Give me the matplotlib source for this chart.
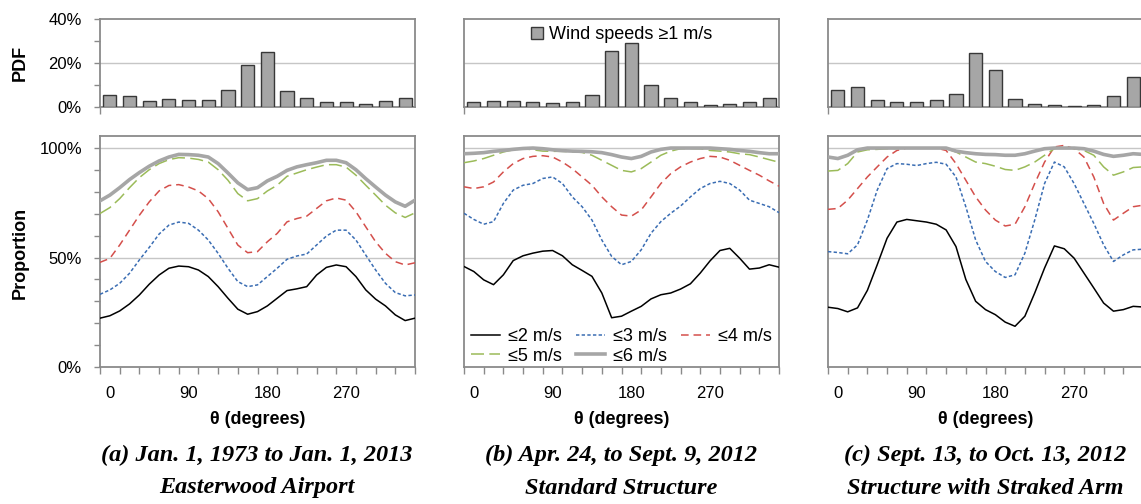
import numpy as np
import matplotlib.pyplot as plt
from matplotlib.patches import Patch

plt.rcParams['font.family'] = ['Liberation Sans', 'DejaVu Sans']

# wind direction bins (deg) for the PDF bars, values in %
bin_centers = [0, 22.5, 45, 67.5, 90, 112.5, 135, 157.5, 180, 202.5, 225, 247.5, 270, 292.5, 315, 337.5]
pdf_a = [5.3, 5.0, 2.7, 3.6, 3.3, 3.3, 7.8, 19.0, 25.2, 7.2, 3.9, 2.3, 2.1, 1.5, 2.7, 4.1]
pdf_b = [2.1, 2.7, 2.7, 2.3, 2.0, 2.3, 5.6, 25.4, 29.3, 9.9, 4.1, 2.1, 0.9, 1.2, 2.4, 3.9]
pdf_c = [7.7, 8.9, 3.2, 2.3, 2.3, 3.0, 5.9, 24.4, 16.7, 3.8, 1.2, 0.8, 0.3, 0.9, 4.8, 13.5]

# direction axis for the proportion curves
theta = [-11.25, 0, 11.25, 22.5, 33.75, 45, 56.25, 67.5, 78.75, 90, 101.25, 112.5, 123.75,
         135, 146.25, 157.5, 168.75, 180, 191.25, 202.5, 213.75, 225, 236.25, 247.5, 258.75,
         270, 281.25, 292.5, 303.75, 315, 326.25, 337.5, 348.75]

# (a) Easterwood Airport
a_le2 = [0.223, 0.234, 0.256, 0.288, 0.329, 0.378, 0.420, 0.451, 0.461, 0.458, 0.443, 0.413, 0.367,
         0.314, 0.264, 0.241, 0.253, 0.279, 0.314, 0.349, 0.357, 0.367, 0.420, 0.455, 0.466, 0.458,
         0.413, 0.352, 0.310, 0.279, 0.238, 0.212, 0.223]
a_le3 = [0.332, 0.352, 0.382, 0.428, 0.489, 0.546, 0.607, 0.648, 0.662, 0.656, 0.625, 0.580, 0.519,
         0.451, 0.390, 0.367, 0.375, 0.413, 0.451, 0.492, 0.507, 0.516, 0.557, 0.598, 0.625, 0.625,
         0.580, 0.511, 0.443, 0.382, 0.340, 0.325, 0.329]
a_le4 = [0.478, 0.496, 0.557, 0.625, 0.693, 0.754, 0.804, 0.829, 0.833, 0.822, 0.804, 0.769, 0.709,
         0.633, 0.557, 0.522, 0.527, 0.572, 0.610, 0.663, 0.678, 0.689, 0.724, 0.759, 0.772, 0.762,
         0.709, 0.640, 0.572, 0.519, 0.481, 0.466, 0.476]
a_le5 = [0.701, 0.728, 0.769, 0.819, 0.865, 0.901, 0.929, 0.947, 0.956, 0.954, 0.948, 0.936, 0.901,
         0.853, 0.792, 0.759, 0.769, 0.804, 0.830, 0.871, 0.886, 0.901, 0.913, 0.924, 0.924, 0.913,
         0.876, 0.830, 0.785, 0.739, 0.704, 0.683, 0.704]
a_le6 = [0.759, 0.785, 0.819, 0.856, 0.888, 0.917, 0.941, 0.959, 0.971, 0.970, 0.967, 0.959, 0.929,
         0.886, 0.841, 0.810, 0.819, 0.850, 0.871, 0.898, 0.914, 0.924, 0.933, 0.944, 0.944, 0.933,
         0.901, 0.860, 0.822, 0.785, 0.754, 0.734, 0.762]

# (b) standard structure
b_le2 = [0.459, 0.436, 0.398, 0.376, 0.421, 0.486, 0.508, 0.520, 0.529, 0.532, 0.508, 0.467, 0.441,
         0.414, 0.338, 0.225, 0.232, 0.255, 0.277, 0.311, 0.330, 0.338, 0.356, 0.380, 0.429, 0.485,
         0.532, 0.542, 0.497, 0.447, 0.452, 0.467, 0.456]
b_le3 = [0.702, 0.674, 0.652, 0.664, 0.747, 0.808, 0.830, 0.838, 0.861, 0.868, 0.838, 0.777, 0.732,
         0.671, 0.580, 0.505, 0.467, 0.482, 0.535, 0.611, 0.664, 0.702, 0.735, 0.777, 0.815, 0.838,
         0.848, 0.838, 0.808, 0.762, 0.747, 0.732, 0.705]
b_le4 = [0.823, 0.815, 0.823, 0.845, 0.891, 0.929, 0.952, 0.962, 0.965, 0.959, 0.936, 0.906, 0.868,
         0.830, 0.777, 0.732, 0.694, 0.689, 0.717, 0.777, 0.838, 0.883, 0.914, 0.936, 0.952, 0.962,
         0.959, 0.944, 0.921, 0.898, 0.876, 0.850, 0.826]
b_le5 = [0.933, 0.941, 0.952, 0.967, 0.982, 0.992, 0.997, 0.992, 0.986, 0.985, 0.985, 0.983, 0.980,
         0.967, 0.944, 0.921, 0.898, 0.891, 0.906, 0.936, 0.967, 0.986, 0.997, 0.998, 0.997, 0.989,
         0.986, 0.982, 0.974, 0.970, 0.959, 0.947, 0.935]
b_le6 = [0.974, 0.976, 0.979, 0.985, 0.989, 0.994, 0.998, 1.0, 0.997, 0.992, 0.988, 0.986, 0.985,
         0.983, 0.979, 0.970, 0.959, 0.952, 0.962, 0.982, 0.994, 1.0, 1.0, 1.0, 1.0, 1.0,
         0.997, 0.994, 0.989, 0.985, 0.979, 0.974, 0.974]

# (c) structure with straked arm
c_le2 = [0.273, 0.267, 0.252, 0.270, 0.350, 0.467, 0.588, 0.662, 0.674, 0.668, 0.662, 0.652, 0.626,
         0.550, 0.400, 0.300, 0.262, 0.239, 0.205, 0.186, 0.232, 0.338, 0.452, 0.553, 0.540, 0.497,
         0.429, 0.361, 0.292, 0.255, 0.262, 0.277, 0.274]
c_le3 = [0.527, 0.523, 0.517, 0.558, 0.671, 0.808, 0.906, 0.929, 0.926, 0.920, 0.929, 0.935, 0.926,
         0.868, 0.732, 0.580, 0.482, 0.436, 0.409, 0.421, 0.520, 0.671, 0.838, 0.936, 0.914, 0.838,
         0.747, 0.656, 0.558, 0.482, 0.512, 0.535, 0.538]
c_le4 = [0.720, 0.724, 0.762, 0.815, 0.868, 0.914, 0.959, 0.989, 1.0, 1.0, 1.0, 1.0, 0.989,
         0.929, 0.853, 0.777, 0.717, 0.671, 0.644, 0.652, 0.732, 0.838, 0.936, 1.005, 1.012, 0.997,
         0.959, 0.868, 0.747, 0.671, 0.702, 0.732, 0.739]
c_le5 = [0.895, 0.898, 0.929, 0.982, 0.992, 0.994, 0.997, 0.998, 1.0, 1.0, 1.0, 1.0, 0.997,
         0.982, 0.959, 0.936, 0.929, 0.917, 0.902, 0.898, 0.914, 0.936, 0.967, 0.997, 1.005, 0.997,
         0.989, 0.967, 0.914, 0.876, 0.891, 0.911, 0.914]
c_le6 = [0.959, 0.952, 0.967, 0.992, 1.0, 1.0, 1.0, 1.0, 1.0, 1.0, 1.0, 1.0, 1.0,
         0.986, 0.979, 0.974, 0.971, 0.970, 0.967, 0.967, 0.974, 0.986, 0.997, 1.0, 1.0, 1.0,
         0.997, 0.986, 0.971, 0.962, 0.967, 0.974, 0.971]

series_labels = ['≤2 m/s', '≤3 m/s', '≤4 m/s', '≤5 m/s', '≤6 m/s']
captions = [('(a) Jan. 1, 1973 to Jan. 1, 2013', 'Easterwood Airport'),
            ('(b) Apr. 24, to Sept. 9, 2012', 'Standard Structure'),
            ('(c) Sept. 13, to Oct. 13, 2012', 'Structure with Straked Arm')]

line_styles = [
    dict(color='black', lw=1.1, ls='-'),
    dict(color='#3a6db3', lw=1.1, ls=(0, (2.2, 1.5))),
    dict(color='#d44f4b', lw=1.1, ls=(0, (5, 3.2))),
    dict(color='#9bbb59', lw=1.1, ls=(0, (8.5, 3.5))),
    dict(color='#a6a6a6', lw=2.6, ls='-'),
]

frame = '#8a8a8a'
grid = '#c6c6c6'
W, H = 1141, 504
fig = plt.figure(figsize=(W / 100, H / 100), dpi=100)

lefts = [100, 464, 828]
xlim = (-11.25, 348.75)
bounds = np.arange(-11.25, 349, 22.5)

panels = [(pdf_a, [a_le2, a_le3, a_le4, a_le5, a_le6]),
          (pdf_b, [b_le2, b_le3, b_le4, b_le5, b_le6]),
          (pdf_c, [c_le2, c_le3, c_le4, c_le5, c_le6])]

for i, (pdf, curves) in enumerate(panels):
    left = lefts[i] / W
    width = 315 / W

    # PDF bars
    ax = fig.add_axes([left, (H - 107) / H, width, 88 / H])
    ax.bar(bin_centers, pdf, width=15, color='#a6a6a6', edgecolor='#383838', lw=1.0, zorder=3)
    ax.axhline(20, color=grid, lw=1, zorder=1)
    ax.set_xlim(*xlim)
    ax.set_ylim(0, 40)
    ax.set_xticks([-11.25])
    ax.set_xticklabels([])
    ax.tick_params(axis='x', direction='out', length=5, color=frame, width=1)
    if i == 0:
        ax.set_yticks([0, 20, 40])
        ax.set_yticklabels(['0%', '20%', '40%'])
        ax.set_yticks([10, 30], minor=True)
        ax.tick_params(axis='y', which='both', direction='out', length=4, color=frame, width=1,
                       pad=9, labelsize=12)
    else:
        ax.set_yticks([])
    for sp in ax.spines.values():
        sp.set_color(frame)
        sp.set_linewidth(1.3)
    if i == 1:
        ax.legend(handles=[Patch(facecolor='#a6a6a6', edgecolor='#383838', lw=1.0)],
                  labels=['Wind speeds ≥1 m/s'], loc='upper center', bbox_to_anchor=(0.5, 1.06),
                  frameon=False, fontsize=13, handlelength=0.7, handleheight=0.7,
                  handletextpad=0.3, borderpad=0.2)

    # proportion curves
    ax = fig.add_axes([left, (H - 367) / H, width, 231 / H])
    ax.axhline(0.5, color=grid, lw=1, zorder=1)
    ax.axhline(1.0, color=grid, lw=1, zorder=1)
    handles = []
    for vals, st, lab in zip(curves, line_styles, series_labels):
        ln, = ax.plot(theta, vals, zorder=3, label=lab, **st)
        handles.append(ln)
    ax.set_xlim(*xlim)
    ax.set_ylim(0, 1.055)
    ax.set_xticks([0, 90, 180, 270])
    ax.set_xticklabels(['0', '90', '180', '270'])
    ax.set_xticks(bounds, minor=True)
    ax.tick_params(axis='x', which='major', length=0, pad=14, labelsize=12)
    ax.tick_params(axis='x', which='minor', direction='out', length=5, color=frame, width=1)
    if i == 0:
        ax.set_yticks([0, 0.5, 1.0])
        ax.set_yticklabels(['0%', '50%', '100%'])
        ax.set_yticks(np.arange(0.1, 1.0, 0.1), minor=True)
        ax.tick_params(axis='y', which='both', direction='out', length=4, color=frame, width=1,
                       pad=9, labelsize=12)
    else:
        ax.set_yticks([])
    for sp in ax.spines.values():
        sp.set_color(frame)
        sp.set_linewidth(1.3)
    ax.set_xlabel('θ (degrees)', fontsize=13, fontweight='bold', labelpad=7)
    if i == 1:
        # column-major fill so rows read: ≤2 ≤3 ≤4 / ≤5 ≤6
        order = [0, 3, 1, 4, 2]
        ax.legend(handles=[handles[k] for k in order], loc='lower center',
                  bbox_to_anchor=(0.5, -0.045), ncol=3, frameon=False, fontsize=13,
                  handlelength=1.6, handletextpad=0.45, columnspacing=0.8,
                  labelspacing=0.15, borderpad=0.2)

    # caption
    cx = (lefts[i] + 157) / W
    fig.text(cx, (H - 455) / H, captions[i][0], ha='center', va='center', fontsize=17.5,
             family='Liberation Serif', style='italic', fontweight='bold')
    fig.text(cx, (H - 488) / H, captions[i][1], ha='center', va='center', fontsize=17.5,
             family='Liberation Serif', style='italic', fontweight='bold')

fig.text(20 / W, (H - 63) / H, 'PDF', rotation=90, ha='center', va='center', fontsize=13,
         fontweight='bold')
fig.text(20 / W, (H - 253) / H, 'Proportion', rotation=90, ha='center', va='center', fontsize=13,
         fontweight='bold')

fig.savefig('out.png', dpi=100)
